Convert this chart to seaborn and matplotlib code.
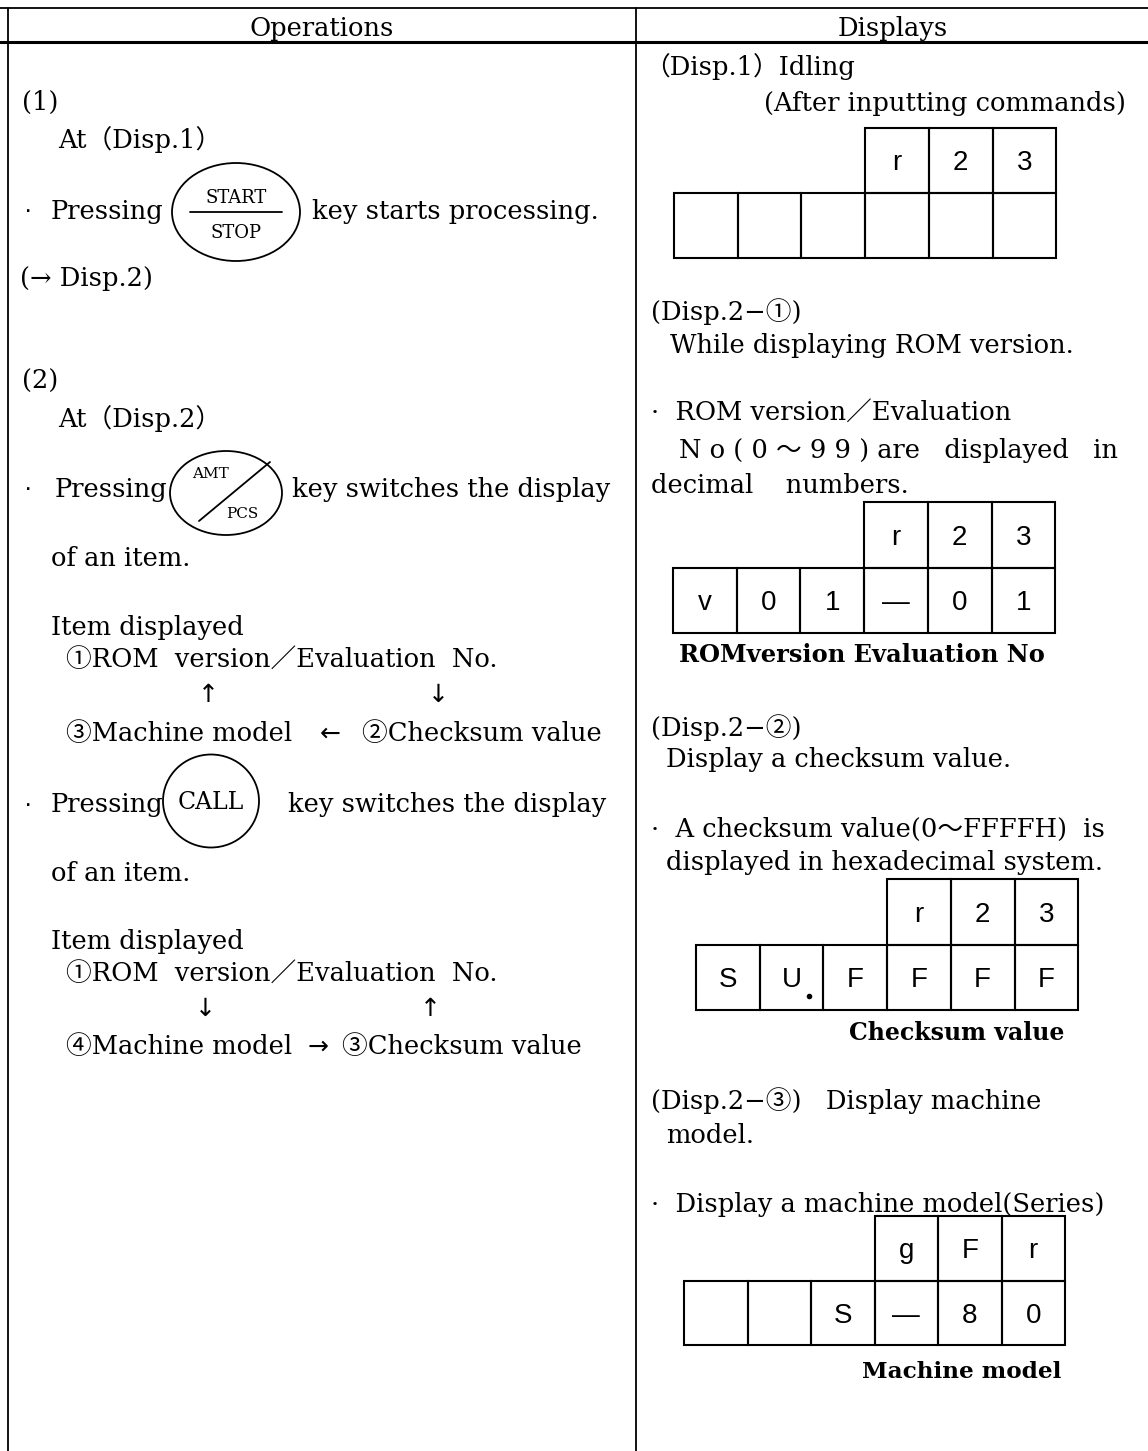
import matplotlib
matplotlib.use("Agg")
import matplotlib.pyplot as plt
from matplotlib.patches import Ellipse, Rectangle
import seaborn as sns

# ---- content ----
header_labels = ["Operations", "Displays"]

disp1_top = ["r", "2", "3"]
disp1_bottom = ["", "", "", "", "", ""]
disp2_top = ["r", "2", "3"]
disp2_bottom = ["v", "0", "1", "—", "0", "1"]
disp3_top = ["r", "2", "3"]
disp3_bottom = ["S", "U.", "F", "F", "F", "F"]
disp4_top = ["g", "F", "r"]
disp4_bottom = ["", "", "S", "—", "8", "0"]

caption_labels = ["ROMversion Evaluation No", "Checksum value", "Machine model"]

ops_lines = [
    ("(1)", 22, 100),
    ("At（Disp.1）", 58, 137),
    ("(→ Disp.2)", 20, 276),
    ("(2)", 22, 379),
    ("At（Disp.2）", 58, 416),
    ("of an item.", 51, 556),
    ("Item displayed", 51, 625),
    ("①ROM  version／Evaluation  No.", 66, 658),
    ("③Machine model", 66, 731),
    ("②Checksum value", 362, 731),
    ("of an item.", 51, 871),
    ("Item displayed", 51, 939),
    ("①ROM  version／Evaluation  No.", 66, 972),
    ("④Machine model", 66, 1044),
    ("③Checksum value", 342, 1044),
]
arrow_marks = [("↑", 208, 692), ("↓", 438, 692), ("↓", 205, 1006), ("↑", 430, 1006),
               ("←", 330, 731), ("→", 318, 1044)]

disp_lines = [
    ("（Disp.1）Idling", 644, 64),
    ("(After inputting commands)", 764, 101),
    ("(Disp.2−①)", 651, 309),
    ("While displaying ROM version.", 670, 343),
    ("·  ROM version／Evaluation", 651, 410),
    ("N o ( 0 ～ 9 9 ) are   displayed   in", 679, 448),
    ("decimal    numbers.", 651, 483),
    ("(Disp.2−②)", 651, 725),
    ("Display a checksum value.", 666, 757),
    ("·  A checksum value(0～FFFFH)  is", 651, 827),
    ("displayed in hexadecimal system.", 666, 860),
    ("(Disp.2−③)   Display machine", 651, 1098),
    ("model.", 666, 1133),
    ("·  Display a machine model(Series)", 651, 1202),
]

SERIF = ["DejaVu Serif", "Noto Sans CJK JP", "DejaVu Sans"]
SANS = ["Liberation Sans", "Noto Sans CJK JP", "DejaVu Sans"]
ARROW = ["DejaVu Sans"]

sns.set_theme(style="white")
plt.rcParams["font.family"] = SERIF

W, H = 1148, 1451
fig = plt.figure(figsize=(W / 100, H / 100), dpi=100)
ax = fig.add_axes([0, 0, 1, 1])
ax.set_xlim(0, W)
ax.set_ylim(H, 0)
ax.axis("off")

FS = 18.5


def txt(s, x, y, size=FS, ha="left", family=SERIF, weight="normal"):
    ax.text(x, y, s, fontsize=size, ha=ha, va="center_baseline", family=family,
            weight=weight, color="black")


# ---- frame ----
ax.plot([0, W], [8, 8], color="black", lw=1.3)
ax.plot([0, W], [42, 42], color="black", lw=2.2)
ax.plot([8, 8], [8, H], color="black", lw=1.3)
ax.plot([636, 636], [8, H], color="black", lw=1.3)
txt(header_labels[0], 322, 26, ha="center")
txt(header_labels[1], 893, 26, ha="center")

# ---- operations column ----
for s, x, y in ops_lines:
    txt(s, x, y)
for s, x, y in arrow_marks:
    txt(s, x, y, size=18, ha="center", family=ARROW)

# key: START/STOP
txt("·", 24, 209, family=SANS)
txt("Pressing", 51, 209)
ax.add_patch(Ellipse((236, 212), 128, 98, fill=False, lw=1.3, color="black"))
ax.plot([190, 282], [212, 212], color="black", lw=1.3)
txt("START", 236, 196, size=13, ha="center")
txt("STOP", 236, 231, size=13, ha="center")
txt("key starts processing.", 312, 209)

# key: AMT/PCS
txt("·", 24, 487, family=SANS)
txt("Pressing", 55, 487)
ax.add_patch(Ellipse((226, 493), 112, 84, fill=False, lw=1.3, color="black"))
ax.plot([199, 270], [521, 462], color="black", lw=1.3)
txt("AMT", 210, 473, size=11, ha="center")
txt("PCS", 242, 512, size=11, ha="center")
txt("key switches the display", 292, 487)

# key: CALL
txt("·", 24, 802, family=SANS)
txt("Pressing", 51, 802)
ax.add_patch(Ellipse((211, 801), 96, 93, fill=False, lw=1.3, color="black"))
txt("CALL", 211, 800, size=17, ha="center")
txt("key switches the display", 288, 802)

# ---- displays column ----
for s, x, y in disp_lines:
    txt(s, x, y)


def draw_display(x0, y0, cw, ch, top, bottom):
    n = len(bottom)
    off = n - len(top)
    for i, c in enumerate(top):
        x = x0 + (off + i) * cw
        ax.add_patch(Rectangle((x, y0), cw, ch, fill=False, lw=1.5, ec="black"))
        txt(c, x + cw / 2, y0 + ch / 2, size=20, ha="center", family=SANS)
    for i, c in enumerate(bottom):
        x = x0 + i * cw
        ax.add_patch(Rectangle((x, y0 + ch), cw, ch, fill=False, lw=1.5, ec="black"))
        label = c.rstrip(".")
        txt(label, x + cw / 2, y0 + ch * 1.5, size=20, ha="center", family=SANS)
        if c.endswith(".") and len(c) > 1:
            ax.plot(x + cw * 0.78, y0 + ch * 1.78, "o", ms=3, color="black")


draw_display(674, 128, 63.7, 65, disp1_top, disp1_bottom)
draw_display(673, 502, 63.7, 65.5, disp2_top, disp2_bottom)
draw_display(696, 879, 63.7, 65.5, disp3_top, disp3_bottom)
draw_display(684, 1216, 63.5, 64.5, disp4_top, disp4_bottom)

txt(caption_labels[0], 679, 652, size=17.4, weight="bold")
txt(caption_labels[1], 957, 1030, size=17, ha="center", weight="bold")
txt(caption_labels[2], 962, 1370, size=16.7, ha="center", weight="bold")

fig.savefig("out.png", dpi=100, facecolor="white")
